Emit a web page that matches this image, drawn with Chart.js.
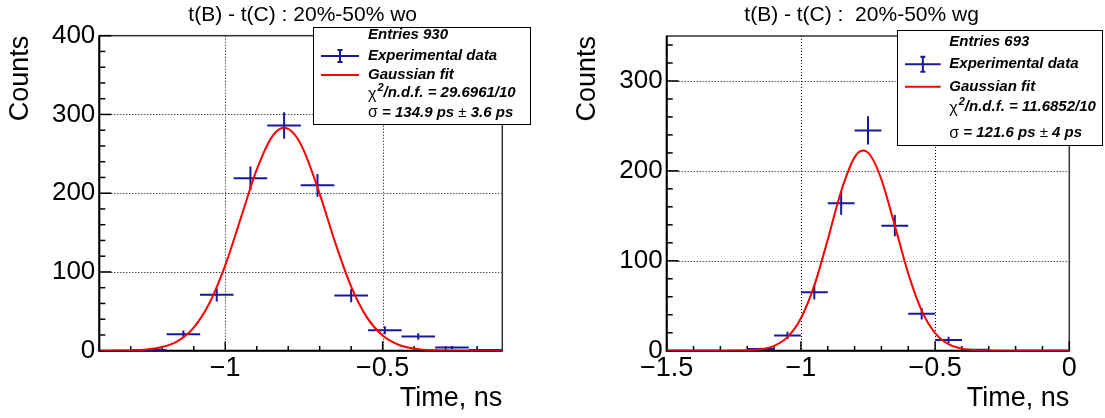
<!DOCTYPE html>
<html>
<head>
<meta charset="utf-8">
<script src="https://cdn.jsdelivr.net/npm/chart.js@4.4.0/dist/chart.umd.min.js"></script>
<style>
  html, body { margin: 0; padding: 0; background: #fff; }
  #wrap { position: relative; width: 1105px; height: 418px; }
  #wrap canvas { position: absolute; top: 0; }
</style>
</head>
<body>
<div id="wrap">
  <canvas id="woChart" width="552" height="418" style="left:0"></canvas>
  <canvas id="wgChart" width="553" height="418" style="left:552px"></canvas>
</div>
<script>
// ---- "wo" histogram (left) ----
const woCenters = [-1.24, -1.133, -1.027, -0.92, -0.813, -0.707, -0.6, -0.493, -0.387, -0.28, -0.173];
const woCounts  = [1, 21, 71, 219, 286, 210, 70, 26, 18, 4, 1];
const woErrors  = [1, 4.6, 8.4, 14.8, 16.9, 14.5, 8.4, 5.1, 4.2, 2, 1];
const woBinWidth = 0.1067;
const woFitX = [-1.40, -1.35, -1.30, -1.25, -1.20, -1.15, -1.10, -1.05, -1.00, -0.95, -0.90, -0.85, -0.813, -0.78,
                -0.75, -0.70, -0.65, -0.60, -0.55, -0.50, -0.45, -0.40, -0.35, -0.30, -0.25, -0.20, -0.12];
const woFitY = [0, 0.1, 0.4, 1.5, 4.6, 12.5, 29.4, 60.5, 108.3, 169, 229.8, 272.5, 283, 274.7,
                253.8, 199.2, 136.4, 81.4, 42.3, 19.2, 7.6, 2.6, 0.8, 0.2, 0, 0, 0];
const woXLabels = { '-1': '\u22121', '-0.5': '\u22120.5' };
const woYLabels = [0, 100, 200, 300, 400];

// ---- "wg" histogram (right) ----
const wgCenters = [-1.45, -1.35, -1.15, -1.05, -0.95, -0.85, -0.75, -0.65, -0.55, -0.45, -0.35, -0.15, -0.05];
const wgCounts  = [0, 0, 2, 17, 65, 164, 245, 139, 41, 12, 1, 0, 0];
const wgErrors  = [0, 0, 1.4, 4.1, 8.1, 12.8, 15.7, 11.8, 6.4, 3.5, 1, 0, 0];
const wgBinWidth = 0.1;
const wgFitX = [-1.50, -1.40, -1.30, -1.25, -1.20, -1.15, -1.10, -1.05, -1.00, -0.95, -0.90, -0.85, -0.80, -0.768,
                -0.74, -0.70, -0.65, -0.60, -0.55, -0.50, -0.45, -0.40, -0.35, -0.30, -0.25, -0.20, 0];
const wgFitY = [0, 0, 0, 0.1, 0.4, 1.6, 5.4, 15.1, 36.1, 72.6, 123.5, 177.4, 215, 222.6,
                216.8, 190.4, 139.1, 85.7, 44.6, 19.6, 7.3, 2.3, 0.6, 0.1, 0, 0, 0];
const wgXLabels = { '-1.5': '\u22121.5', '-1': '\u22121', '-0.5': '\u22120.5', '0': '0' };
const wgYLabels = [0, 100, 200, 300];

const FONT = '"Liberation Sans", Arial, sans-serif';
const BLUE = 'rgb(24,24,156)';
const RED = '#ff0000';

function range(a, b, step) {
  const out = [];
  const n = Math.round((b - a) / step);
  for (let i = 0; i <= n; i++) out.push(+(a + i * step).toFixed(6));
  return out;
}

// ROOT-like frame: dotted grid, inside tick marks, stats/legend box, title
function rootPad(p) {
  return {
    id: 'rootPad',
    beforeDatasetsDraw(chart) {
      const { ctx, chartArea: a, scales: { x, y } } = chart;
      ctx.save();
      ctx.strokeStyle = '#000';
      ctx.lineWidth = 1;
      ctx.setLineDash([1, 2]);
      x.ticks.forEach(t => {
        if (!t.label) return;
        const px = Math.round(x.getPixelForValue(t.value)) + 0.5;
        if (px <= a.left + 2 || px >= a.right - 2) return;
        ctx.beginPath(); ctx.moveTo(px, a.top); ctx.lineTo(px, a.bottom); ctx.stroke();
      });
      y.ticks.forEach(t => {
        if (!t.label) return;
        const py = Math.round(y.getPixelForValue(t.value)) + 0.5;
        if (py <= a.top + 2 || py >= a.bottom - 2) return;
        ctx.beginPath(); ctx.moveTo(a.left, py); ctx.lineTo(a.right, py); ctx.stroke();
      });
      ctx.setLineDash([]);
      ctx.strokeStyle = '#333';
      ctx.lineWidth = 1.5;
      ctx.strokeRect(a.left, a.top, a.right - a.left, a.bottom - a.top);
      ctx.strokeStyle = '#000';
      ctx.lineWidth = 2;
      ctx.beginPath();
      ctx.moveTo(a.left, a.top); ctx.lineTo(a.left, a.bottom); ctx.lineTo(a.right, a.bottom);
      ctx.stroke();
      ctx.lineWidth = 1.5;
      const h = a.bottom - a.top, w = a.right - a.left;
      x.ticks.forEach(t => {
        const px = x.getPixelForValue(t.value);
        const len = t.label ? 0.03 * h : 0.015 * h;
        ctx.beginPath(); ctx.moveTo(px, a.bottom); ctx.lineTo(px, a.bottom - len); ctx.stroke();
      });
      y.ticks.forEach(t => {
        const py = y.getPixelForValue(t.value);
        const len = t.label ? 0.03 * w : 0.015 * w;
        ctx.beginPath(); ctx.moveTo(a.left, py); ctx.lineTo(a.left + len, py); ctx.stroke();
      });
      ctx.restore();
    },
    afterDraw(chart) {
      const ctx = chart.ctx;
      const L = p.legend;
      ctx.save();
      // title
      ctx.fillStyle = '#000';
      ctx.font = '21px ' + FONT;
      ctx.textBaseline = 'alphabetic';
      ctx.textAlign = 'left';
      ctx.fillText(p.title, p.titleX, 21);
      // stats / legend box
      ctx.fillStyle = '#fff';
      ctx.fillRect(L.x1, L.y1, L.x2 - L.x1, L.y2 - L.y1);
      ctx.strokeStyle = '#000';
      ctx.lineWidth = 1;
      ctx.strokeRect(L.x1 + 0.5, L.y1 + 0.5, L.x2 - L.x1, L.y2 - L.y1);
      const bi = 'italic bold 15px ' + FONT;
      ctx.fillStyle = '#000';
      ctx.textBaseline = 'middle';
      ctx.font = bi;
      ctx.fillText('Entries ' + p.entries, L.tx, L.rows[0]);
      ctx.fillText('Experimental data', L.tx, L.rows[1]);
      ctx.fillText('Gaussian fit', L.tx, L.rows[2]);
      // data marker
      ctx.strokeStyle = BLUE;
      ctx.lineWidth = 2;
      const mx = (L.sx1 + L.sx2) / 2;
      ctx.beginPath();
      ctx.moveTo(L.sx1, L.rows[1]); ctx.lineTo(L.sx2, L.rows[1]);
      ctx.moveTo(mx, L.rows[1] - L.bar); ctx.lineTo(mx, L.rows[1] + L.bar);
      ctx.moveTo(mx - 2.5, L.rows[1] - L.bar); ctx.lineTo(mx + 2.5, L.rows[1] - L.bar);
      ctx.moveTo(mx - 2.5, L.rows[1] + L.bar); ctx.lineTo(mx + 2.5, L.rows[1] + L.bar);
      ctx.stroke();
      // fit marker
      ctx.strokeStyle = RED;
      ctx.beginPath();
      ctx.moveTo(L.sx1, L.rows[2]); ctx.lineTo(L.sx2, L.rows[2]);
      ctx.stroke();
      // chi2 line
      let cx = L.tx;
      ctx.font = '16px ' + FONT;
      ctx.fillText('\u03c7', cx, L.rows[3] + 1);
      cx += ctx.measureText('\u03c7').width + 1;
      ctx.font = 'italic bold 11px ' + FONT;
      ctx.fillText('2', cx, L.rows[3] - 5);
      cx += ctx.measureText('2').width;
      ctx.font = bi;
      ctx.fillText('/n.d.f. = ' + p.chi2, cx, L.rows[3]);
      // sigma line
      cx = L.tx;
      ctx.font = '16px ' + FONT;
      ctx.fillText('\u03c3', cx, L.rows[4]);
      cx += ctx.measureText('\u03c3').width;
      ctx.font = bi;
      const s1 = ' = ' + p.sigma + ' ps ';
      ctx.fillText(s1, cx, L.rows[4]);
      cx += ctx.measureText(s1).width;
      ctx.font = '15px ' + FONT;
      ctx.fillText('\u00b1', cx, L.rows[4]);
      cx += ctx.measureText('\u00b1').width;
      ctx.font = bi;
      ctx.fillText(' ' + p.sigmaErr + ' ps', cx, L.rows[4]);
      ctx.restore();
    }
  };
}

function buildChart(canvasId, p) {
  const fit = p.fitX.map((x, i) => ({ x, y: p.fitY[i] }));
  const cross = [];
  p.centers.forEach((c, i) => {
    const n = p.counts[i], e = p.errors[i];
    cross.push({ x: c - p.binWidth / 2, y: n }, { x: c + p.binWidth / 2, y: n }, { x: c, y: null });
    if (e > 0) cross.push({ x: c, y: n - e }, { x: c, y: n + e }, { x: c, y: null });
  });
  const xTicks = range(p.xTickStart, p.xTickEnd, 0.1);
  const yTicks = range(0, p.yTickEnd, 20);
  return new Chart(document.getElementById(canvasId), {
    type: 'scatter',
    data: {
      datasets: [
        { label: 'Gaussian fit', data: fit, showLine: true, borderColor: RED, borderWidth: 2,
          pointRadius: 0, cubicInterpolationMode: 'monotone', order: 0 },
        { label: 'Experimental data', data: cross, showLine: true, borderColor: BLUE, borderWidth: 2,
          pointRadius: 0, spanGaps: false, order: 1 }
      ]
    },
    options: {
      responsive: false,
      animation: false,
      events: [],
      layout: { padding: { top: p.area.top, right: p.padRight, left: 0, bottom: 0 } },
      plugins: { legend: { display: false }, tooltip: { enabled: false } },
      scales: {
        x: {
          type: 'linear', min: p.xMin, max: p.xMax,
          grid: { display: false, drawTicks: false },
          border: { display: false },
          afterBuildTicks: s => { s.ticks = xTicks.map(v => ({ value: v })); },
          afterFit: s => { s.height = 418 - p.area.bottom; },
          ticks: {
            autoSkip: false, maxRotation: 0, padding: 2, color: '#000',
            font: { family: FONT, size: 27 },
            callback: v => p.xLabels[String(+v.toFixed(6))] || ''
          },
          title: { display: true, text: 'Time, ns', align: 'end', color: '#000',
                   font: { family: FONT, size: 27 }, padding: { top: 0, bottom: 3 } }
        },
        y: {
          type: 'linear', min: 0, max: p.yMax,
          grid: { display: false, drawTicks: false },
          border: { display: false },
          afterBuildTicks: s => { s.ticks = yTicks.map(v => ({ value: v })); },
          afterFit: s => { s.width = p.area.left; },
          ticks: {
            autoSkip: false, padding: 4, color: '#000',
            font: { family: FONT, size: 26 },
            callback: v => (p.yLabels.includes(v) ? String(v) : '')
          },
          title: { display: true, text: 'Counts', align: 'end', color: '#000',
                   font: { family: FONT, size: 27 }, padding: { top: p.yTitlePad, bottom: 0 } }
        }
      }
    },
    plugins: [rootPad(p)]
  });
}

buildChart('woChart', {
  centers: woCenters, counts: woCounts, errors: woErrors, binWidth: woBinWidth,
  fitX: woFitX, fitY: woFitY, xLabels: woXLabels, yLabels: woYLabels,
  xMin: -1.4, xMax: -0.12, xTickStart: -1.4, xTickEnd: -0.2, yMax: 400, yTickEnd: 400,
  area: { left: 99.3, top: 35.7, bottom: 350.7 }, padRight: 49.7, yTitlePad: 4,
  title: 't(B) - t(C) : 20%-50% wo', titleX: 188.3,
  entries: 930, chi2: '29.6961/10', sigma: '134.9', sigmaErr: '3.6',
  legend: { x1: 313, y1: 27, x2: 530, y2: 124, tx: 368, sx1: 321, sx2: 359, bar: 6,
            rows: [35, 56, 75, 93.3, 112.7] }
});

buildChart('wgChart', {
  centers: wgCenters, counts: wgCounts, errors: wgErrors, binWidth: wgBinWidth,
  fitX: wgFitX, fitY: wgFitY, xLabels: wgXLabels, yLabels: wgYLabels,
  xMin: -1.5, xMax: 0, xTickStart: -1.5, xTickEnd: 0, yMax: 350, yTickEnd: 340,
  area: { left: 114.7, top: 36, bottom: 350.7 }, padRight: 35.7, yTitlePad: 19,
  title: 't(B) - t(C) :  20%-50% wg', titleX: 192.3,
  entries: 693, chi2: '11.6852/10', sigma: '121.6', sigmaErr: '4',
  legend: { x1: 345, y1: 30, x2: 550, y2: 145, tx: 397.3, sx1: 353, sx2: 388.7, bar: 7.5,
            rows: [41.7, 64.3, 86.7, 107.3, 133.3] }
});
</script>
</body>
</html>
